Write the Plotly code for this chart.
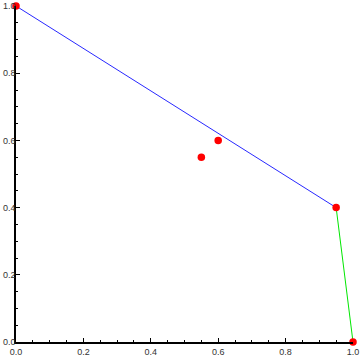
import plotly.graph_objects as go

pts_x = [0.0, 0.55, 0.6, 0.95, 1.0]
pts_y = [1.0, 0.55, 0.6, 0.4, 0.0]
blue_x = [0.0, 0.95]
blue_y = [1.0, 0.4]
green_x = [0.95, 1.0]
green_y = [0.4, 0.0]
tick_vals = [0.0, 0.2, 0.4, 0.6, 0.8, 1.0]
tick_text = ["0.0", "0.2", "0.4", "0.6", "0.8", "1.0"]

fig = go.Figure()
fig.add_trace(go.Scatter(x=blue_x, y=blue_y, mode="lines",
                         line=dict(color="rgb(40,40,255)", width=1), cliponaxis=False))
fig.add_trace(go.Scatter(x=green_x, y=green_y, mode="lines",
                         line=dict(color="rgb(0,230,0)", width=1), cliponaxis=False))
fig.add_trace(go.Scatter(x=pts_x, y=pts_y, mode="markers",
                         marker=dict(color="rgb(255,0,0)", size=7.5), cliponaxis=False))

axis_common = dict(
    range=[0, 1], showgrid=False, zeroline=False, automargin=False,
    showline=True, linecolor="black", linewidth=1.5,
    ticks="inside", ticklen=4, tickwidth=1, tickcolor="black",
    tickvals=tick_vals, ticktext=tick_text,
    tickfont=dict(family="Liberation Sans, Arial, sans-serif", size=9, color="#333"),
    minor=dict(dtick=0.05, tick0=0, ticks="inside", ticklen=2.5, tickcolor="black", tickwidth=1),
    fixedrange=True,
)
fig.update_layout(
    width=360, height=359,
    margin=dict(l=16, r=7, t=6, b=17),
    paper_bgcolor="white", plot_bgcolor="white",
    showlegend=False,
    xaxis=dict(**axis_common, ticklabelstandoff=0),
    yaxis=dict(**axis_common, ticklabelstandoff=-3),
)
fig.write_html("out.html")
